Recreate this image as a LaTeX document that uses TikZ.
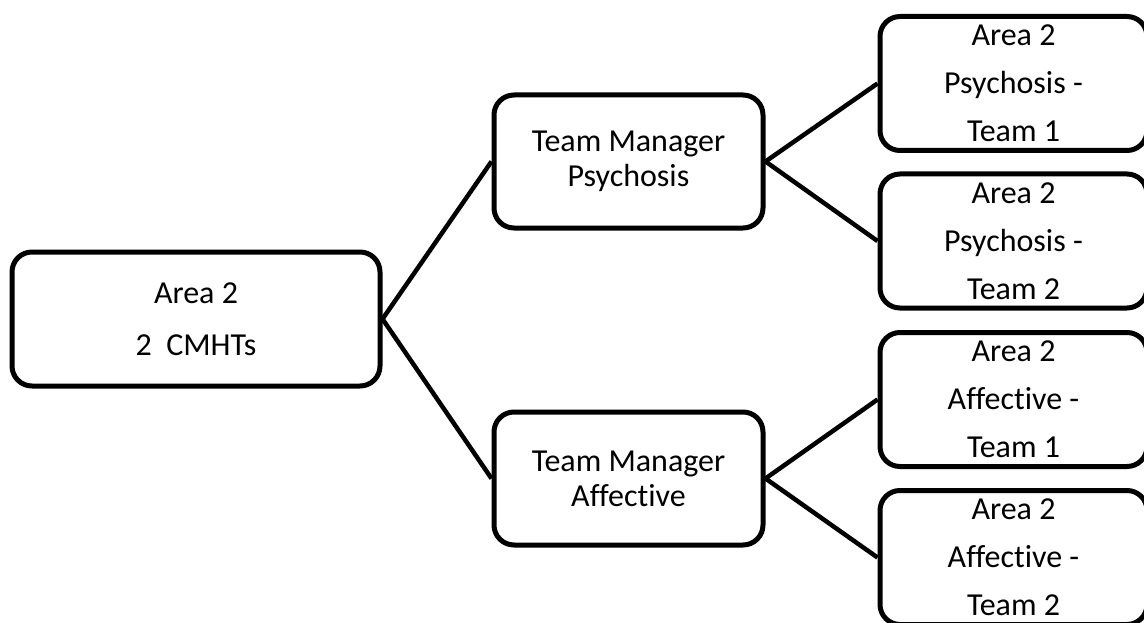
\documentclass[tikz,border=0pt]{standalone}
\usepackage{fontspec}
\setmainfont{Carlito}[Ligatures=NoCommon]
\begin{document}
\begin{tikzpicture}[x={(1pt,0)},y={(0,-1pt)},
  box/.style={draw=black,line width=5pt,rounded corners=20pt,inner sep=0pt,align=center,fill=white},
  rootbox/.style={box,minimum width=368pt,minimum height=134pt,font=\fontsize{32}{52}\selectfont},
  tmbox/.style={box,minimum width=269pt,minimum height=133pt,font=\fontsize{32}{35}\selectfont},
  leafbox/.style={box,minimum width=267pt,minimum height=134pt,font=\fontsize{32}{48}\selectfont},
  link/.style={draw=black,line width=4.5pt}]
\useasboundingbox (0,0) rectangle (1144,623);
\node[rootbox] (root) at (196,319) {Area 2\\2\ \ CMHTs};
\node[tmbox] (tmp) at (628.5,161.5) {Team Manager\\Psychosis};
\node[tmbox] (tma) at (628.5,478.5) {Team Manager\\Affective};
\node[leafbox] (l1) at (1013.5,83.5) {Area 2\\Psychosis -\\Team 1};
\node[leafbox] (l2) at (1013.5,241) {Area 2\\Psychosis -\\Team 2};
\node[leafbox] (l3) at (1013.5,399.5) {Area 2\\Affective -\\Team 1};
\node[leafbox] (l4) at (1013.5,557.5) {Area 2\\Affective -\\Team 2};
\draw[link] (root.east) -- (tmp.west);
\draw[link] (root.east) -- (tma.west);
\draw[link] (tmp.east) -- (l1.west);
\draw[link] (tmp.east) -- (l2.west);
\draw[link] (tma.east) -- (l3.west);
\draw[link] (tma.east) -- (l4.west);
\end{tikzpicture}
\end{document}
